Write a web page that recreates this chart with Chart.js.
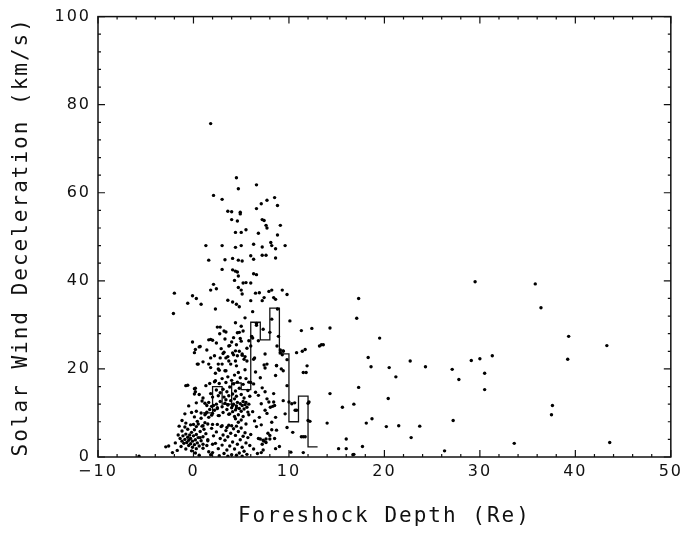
<!DOCTYPE html>
<html>
<head>
<meta charset="utf-8">
<title>Solar Wind Deceleration vs Foreshock Depth</title>
<script src="https://cdn.jsdelivr.net/npm/chart.js@4.4.1/dist/chart.umd.min.js"></script>
<style>
    html, body { margin: 0; padding: 0; background: #fff; }
    #wrap { width: 686px; height: 534px; }
</style>
</head>
<body>
<div id="wrap"><canvas id="chart" width="686" height="534"></canvas></div>
<script>
// Axis ranges and ticks
const xRange = [-10, 50];
const yRange = [0, 100];
const xMajorStep = 10, xMinorStep = 2;
const yMajorStep = 20, yMinorStep = 4;

// Median step line: bin edges (Re) and median deceleration per bin (km/s)
const binEdges = [1, 2, 3, 4, 5, 6, 7, 8, 9, 10, 11, 12, 13];
const binMedians = [10, 16, 12, 16.8, 15.3, 30.6, 26.6, 33.8, 23.4, 8, 13.8, 2.3];

// Individual events [depth (Re), deceleration (km/s)]
const events = [
    // upper and sparse points
    [1.8, 75.7], [4.5, 63.4], [4.7, 60.9], [6.6, 61.8], [2.1, 59.4], [3.0, 58.5], [7.7, 58.3], [8.5, 58.9],
    [7.1, 57.5], [8.8, 57.1], [6.6, 56.4], [3.6, 55.8], [4.0, 55.7], [4.9, 55.6], [4.9, 55.2], [4.0, 53.9],
    [4.6, 53.6], [7.2, 53.9], [7.4, 53.7], [6.8, 50.8], [7.6, 52.6], [9.1, 52.6], [7.7, 52.0], [5.5, 51.6],
    [4.4, 51.0], [5.0, 51.0], [8.8, 50.4], [1.3, 48.0], [3.0, 48.0], [4.4, 47.6], [5.0, 48.0], [6.3, 48.3],
    [7.2, 47.7], [8.1, 48.7], [8.2, 48.0], [9.6, 48.0], [1.6, 44.7], [3.3, 44.8], [4.1, 45.1], [4.7, 44.7],
    [5.1, 44.5], [6.0, 45.7], [6.3, 44.9], [7.2, 45.8], [7.6, 45.8], [8.6, 45.2], [8.6, 47.3], [3.0, 42.6],
    [4.1, 42.5], [4.4, 42.2], [4.6, 42.0], [4.7, 41.1], [6.3, 41.6], [6.6, 41.4], [4.3, 40.1], [5.2, 39.5],
    [5.5, 39.6], [6.0, 39.5], [2.1, 39.2], [2.4, 38.2], [1.8, 37.9], [4.7, 38.5], [5.0, 37.9], [5.1, 37.0],
    [6.5, 37.2], [6.9, 37.3], [7.9, 37.6], [8.2, 37.9], [9.3, 37.9], [9.8, 36.9], [-2.0, 37.2], [-0.1, 36.6],
    [0.3, 36.0], [-0.6, 34.9], [0.8, 34.7], [-2.1, 32.6], [3.6, 35.6], [4.1, 35.2], [4.5, 34.7], [4.8, 34.1],
    [6.0, 35.5], [7.2, 35.5], [7.4, 36.2], [8.4, 36.2], [8.6, 35.8], [8.8, 33.6], [2.3, 33.6], [6.2, 33.0],
    [5.4, 31.6], [5.0, 29.7], [4.4, 30.5], [2.5, 29.5], [2.8, 29.5], [3.2, 28.6], [6.6, 30.3], [8.2, 31.3],
    [10.1, 30.9], [11.3, 28.7], [12.4, 29.2], [14.3, 29.3], [17.1, 31.5], [17.3, 36.0], [19.5, 27.0],
    [-0.1, 26.1], [0.7, 25.1], [0.2, 24.4], [1.8, 26.7], [2.0, 26.5], [4.6, 28.2], [4.0, 26.1], [5.0, 26.3],
    [6.1, 27.4], [6.8, 26.4], [9.1, 24.3], [9.4, 24.0], [11.4, 24.0], [11.7, 24.4], [13.6, 25.5], [0.4, 21.1],
    [1.8, 22.5], [2.2, 23.0], [2.8, 22.5], [3.2, 23.8], [3.6, 22.8], [4.1, 23.6], [4.8, 24.0], [5.1, 23.1],
    [5.4, 22.8], [6.4, 22.5], [3.0, 21.1], [1.8, 20.3], [2.6, 20.0], [4.4, 21.8], [7.4, 20.9], [7.5, 20.2],
    [8.7, 20.8], [9.8, 22.1], [11.8, 19.2], [18.3, 22.6], [18.6, 20.5], [20.5, 20.3], [21.2, 18.2], [22.7, 21.8],
    [24.3, 20.5], [27.1, 19.9], [27.8, 17.6], [29.5, 39.8], [29.1, 21.9], [30.0, 22.3], [31.3, 23.0], [30.5, 19.0],
    [30.5, 15.3], [35.8, 39.3], [36.4, 33.9], [39.3, 27.4], [39.2, 22.2], [43.3, 25.3], [37.6, 11.7], [37.5, 9.6],
    [43.6, 3.3], [33.6, 3.1], [27.2, 8.3], [26.3, 1.4], [23.7, 7.0], [22.8, 4.4], [21.5, 7.1], [20.2, 6.9],
    [20.4, 13.3], [18.7, 8.7], [18.1, 7.7], [17.7, 2.4], [17.3, 15.8], [16.8, 12.0], [16.8, 0.6], [16.7, 0.5],
    [16.0, 4.1], [16.0, 1.9], [15.2, 1.9], [15.6, 11.3], [14.3, 14.4], [14.0, 7.7], [12.1, 12.5], [12.2, 8.1],
    [11.7, 4.6], [11.3, 4.6], [11.5, 1.0], [10.4, 5.6], [10.8, 10.6], [10.6, 12.3], [10.0, 12.5], [10.2, 1.1],
    [8.6, 9.0], [8.5, 4.2], [8.2, 7.9], [8.2, 6.2], [8.6, 1.9], [8.0, 4.1], [7.6, 4.1], [7.2, 2.9], [7.3, 1.6],
    [7.1, 1.0], [7.0, 4.1], [7.1, 12.1], [7.5, 14.8], [7.2, 15.7], [8.4, 14.4], [8.3, 11.5], [-2.9, 2.3],
    [-2.6, 2.5], [-1.7, 1.5], [-5.7, 0.2], [0.2, 15.6], [-0.6, 16.3], [0.1, 14.3],
    // dense blob near zero depth
    [-1.4, 4.2], [-1.2, 3.6], [-1.1, 4.8], [-1.0, 3.1], [-0.9, 4.0], [-0.8, 5.2], [-0.7, 3.3], [-0.6, 4.5],
    [-0.5, 2.6], [-0.5, 3.8], [-0.4, 5.0], [-0.3, 3.0], [-0.3, 4.2], [-0.2, 5.6], [-0.1, 2.2], [-0.1, 3.6],
    [0.0, 4.8], [0.1, 2.8], [0.1, 6.2], [0.2, 3.9], [0.3, 5.1], [0.3, 1.9], [0.4, 3.2], [0.5, 4.4], [0.5, 7.5],
    [0.6, 2.5], [0.7, 5.8], [0.8, 3.7], [0.9, 7.0], [1.0, 4.6], [1.0, 2.0], [-1.3, 2.4], [-0.8, 1.8], [-0.2, 1.4],
    [0.2, 0.9], [-0.6, 6.3], [-0.9, 6.8], [0.0, 7.4], [0.4, 8.1], [0.8, 8.8], [1.2, 7.8], [1.1, 6.3], [1.3, 5.3],
    [1.5, 3.9], [1.4, 2.6], [1.6, 1.2], [1.8, 0.5], [0.6, 0.4], [-1.6, 5.0], [-1.9, 3.2], [-2.2, 1.0],
    [-1.5, 7.0], [-1.2, 8.3], [-0.9, 9.8], [-0.5, 11.6], [-0.2, 10.1], [0.3, 12.3], [0.1, 9.1], [-1.2, 5.9],
    // diagonal band
    [1.2, 9.6], [1.4, 10.2], [1.6, 9.0], [1.7, 10.8], [1.9, 11.5], [2.0, 9.9], [2.2, 10.6], [2.4, 12.0],
    [2.5, 11.0], [2.7, 9.4], [2.8, 12.6], [3.0, 11.4], [3.1, 10.1], [3.3, 12.2], [3.4, 13.0], [3.5, 10.8],
    [3.6, 11.9], [3.8, 9.8], [3.9, 12.8], [4.0, 11.2], [4.1, 10.3], [4.2, 12.0], [4.3, 13.2], [4.4, 10.7],
    [4.5, 11.6], [4.6, 12.4], [4.7, 9.6], [4.8, 11.0], [4.9, 12.1], [5.0, 10.4], [5.1, 11.7], [5.2, 12.6],
    [5.3, 10.9], [5.4, 11.9], [5.5, 12.4], [5.6, 11.3], [5.7, 10.2], [5.8, 12.0], [4.4, 8.7], [4.7, 7.9],
    [5.0, 8.4], [5.2, 9.2], [5.5, 7.5], [5.8, 9.6], [0.9, 12.7], [1.2, 12.2], [1.4, 11.7], [1.6, 12.4],
    [2.1, 11.7], [2.5, 11.2], [3.6, 11.8], [4.1, 11.7], [4.5, 11.1], [0.3, 10.4], [0.8, 10.0], [1.3, 9.9],
    [1.9, 9.5], [2.6, 9.4], [3.7, 9.7], [4.3, 9.2], [-0.8, 7.7], [-0.3, 7.3], [0.3, 6.9], [1.0, 7.1],
    [1.5, 7.5], [2.0, 7.4], [2.5, 7.4], [3.0, 7.1], [3.5, 6.7], [4.0, 7.1],
    // low points, depth 1 to 6
    [1.9, 6.5], [2.1, 4.8], [2.3, 3.1], [2.4, 5.7], [2.6, 1.9], [2.8, 4.2], [2.9, 6.9], [3.0, 2.7], [3.1, 5.0],
    [3.2, 0.8], [3.3, 3.8], [3.4, 6.0], [3.5, 1.6], [3.6, 4.6], [3.7, 7.2], [3.8, 2.5], [3.9, 5.4], [4.0, 0.5],
    [4.1, 3.4], [4.2, 6.4], [4.3, 1.8], [4.4, 4.9], [4.5, 7.0], [4.6, 2.9], [4.7, 5.8], [4.8, 0.9], [4.9, 3.9],
    [5.0, 6.6], [5.1, 2.2], [5.2, 4.7], [5.3, 1.3], [5.4, 5.5], [5.5, 3.2], [5.6, 0.6], [5.7, 4.4], [5.9, 2.6],
    [6.0, 5.1], [2.0, 1.0], [2.7, 0.3], [3.6, 0.2], [4.5, 0.4], [5.1, 0.2], [0.7, 4.4], [1.0, 2.9], [1.5, 3.7],
    [2.0, 2.9],
    // depth 1 to 6, 13 to 20 km/s
    [1.3, 16.2], [1.7, 16.7], [1.8, 14.4], [2.0, 13.6], [2.2, 17.1], [2.4, 15.2], [2.6, 13.9], [2.7, 16.7],
    [2.8, 14.6], [3.0, 17.8], [3.1, 15.4], [3.2, 13.6], [3.4, 16.9], [3.5, 14.8], [3.6, 18.2], [3.7, 13.9],
    [3.8, 15.9], [4.0, 17.4], [4.1, 14.3], [4.2, 16.6], [4.3, 18.6], [4.4, 15.0], [4.5, 13.8], [4.6, 17.0],
    [4.8, 15.6], [4.9, 18.0], [5.0, 14.2], [5.2, 16.5], [5.3, 13.4], [5.5, 17.8], [5.7, 15.1], [5.9, 13.8],
    [6.0, 16.9], [1.0, 13.4], [0.6, 14.2], [2.3, 19.0], [3.3, 19.6], [4.7, 19.2], [5.4, 19.8], [-0.8, 16.2],
    [0.1, 15.5], [0.2, 14.8], [2.3, 17.3], [2.7, 19.7], [3.4, 19.6],
    // depth 1 to 6, 20 to 30 km/s
    [1.0, 21.6], [1.4, 24.3], [2.4, 25.9], [2.9, 24.6], [3.3, 26.8], [3.8, 25.3], [4.2, 27.1], [4.9, 26.9],
    [5.6, 24.7], [5.8, 26.4], [6.0, 25.2], [4.4, 24.1], [4.6, 23.0], [5.1, 23.4], [5.3, 22.2], [5.6, 21.8],
    [6.3, 22.2], [2.75, 28.0], [3.4, 28.4], [4.8, 28.3], [5.2, 28.6], [3.7, 25.2], [4.5, 25.5], [0.1, 23.7],
    [3.1, 23.5], [3.4, 22.5], [3.7, 21.8], [4.2, 23.2], [0.5, 21.1], [1.6, 21.1], [2.6, 21.1], [3.9, 21.1],
    [4.5, 20.7], [0.6, 25.0], [1.6, 26.6],
    // depth 6 to 13
    [6.5, 14.7], [6.8, 14.0], [7.7, 13.2], [7.9, 12.5], [8.05, 11.3], [8.4, 12.5], [8.5, 11.7], [9.4, 12.8],
    [7.5, 10.6], [7.7, 9.9], [10.3, 12.1], [10.65, 10.6], [11.5, 19.2], [11.9, 20.7], [13.4, 25.5], [10.8, 23.7],
    [12.0, 12.2], [12.0, 8.3], [7.8, 5.4], [8.0, 4.9], [8.7, 6.1], [6.8, 4.2], [7.3, 3.8], [7.4, 3.6], [7.6, 3.3],
    [7.5, 23.4], [7.7, 21.1], [8.75, 25.2], [9.1, 23.7], [9.3, 23.2], [9.4, 24.1], [9.4, 19.6], [9.2, 20.0],
    [8.7, 20.7], [8.6, 18.5], [5.8, 17.0], [6.3, 16.6], [6.2, 10.3], [6.4, 8.2], [6.6, 6.9], [6.9, 9.0],
    [7.1, 7.3], [6.3, 1.8], [6.7, 0.8], [9.0, 2.4], [9.6, 9.8], [9.8, 6.7], [6.5, 19.3], [7.0, 18.0], [7.3, 29.0],
    [8.0, 28.3], [8.9, 27.4], [6.2, 27.0], [6.6, 29.9], [9.8, 16.2], [11.5, 4.6], [13.2, 25.2]
];

const stepPoints = binEdges.map((edge, i) => ({
    x: edge,
    y: binMedians[Math.min(i, binMedians.length - 1)]
}));

// Frame with inward major/minor ticks on all four sides
const frameTicks = {
    id: 'frameTicks',
    beforeDraw(chart) {
        chart.ctx.letterSpacing = '2px';
    },
    afterDatasetsDraw(chart) {
        const { ctx, chartArea: a, scales } = chart;
        ctx.save();
        ctx.strokeStyle = '#111';
        ctx.lineWidth = 1.5;
        ctx.strokeRect(a.left, a.top, a.right - a.left, a.bottom - a.top);
        ctx.lineWidth = 1.2;
        ctx.beginPath();
        for (let v = xRange[0]; v <= xRange[1]; v += xMinorStep) {
            const px = scales.x.getPixelForValue(v);
            const len = v % xMajorStep === 0 ? 7 : 3;
            ctx.moveTo(px, a.bottom); ctx.lineTo(px, a.bottom - len);
            ctx.moveTo(px, a.top); ctx.lineTo(px, a.top + len);
        }
        for (let v = yRange[0]; v <= yRange[1]; v += yMinorStep) {
            const py = scales.y.getPixelForValue(v);
            const len = v % yMajorStep === 0 ? 7 : 3;
            ctx.moveTo(a.left, py); ctx.lineTo(a.left + len, py);
            ctx.moveTo(a.right, py); ctx.lineTo(a.right - len, py);
        }
        ctx.stroke();
        ctx.restore();
    }
};

const titleFont = '"DejaVu Sans Mono", monospace';
const tickFont = '"DejaVu Sans", sans-serif';

new Chart(document.getElementById('chart'), {
    type: 'scatter',
    data: {
        datasets: [
            {
                label: 'Events',
                data: events.map(p => ({ x: p[0], y: p[1] })),
                pointRadius: 1.7,
                pointBorderWidth: 0,
                pointBackgroundColor: '#000',
                pointHoverRadius: 1.7
            },
            {
                type: 'line',
                label: 'Median',
                data: stepPoints,
                stepped: true,
                borderColor: '#111',
                borderWidth: 1.3,
                pointRadius: 0,
                fill: false
            }
        ]
    },
    options: {
        responsive: false,
        animation: false,
        layout: { padding: { top: 13, right: 11, left: 0, bottom: 0 } },
        plugins: {
            legend: { display: false },
            tooltip: { enabled: false }
        },
        scales: {
            x: {
                type: 'linear',
                min: xRange[0],
                max: xRange[1],
                grid: { display: false, drawTicks: false },
                border: { display: false },
                afterFit: (scale) => { scale.height = 77; },
                ticks: {
                    stepSize: xMajorStep,
                    padding: 5,
                    color: '#111',
                    font: { family: tickFont, size: 16 },
                    callback: (v) => v < 0 ? '\u2212' + Math.abs(v) : String(v)
                },
                title: {
                    display: true,
                    text: 'Foreshock Depth (Re)',
                    color: '#111',
                    font: { family: titleFont, size: 21 },
                    padding: { top: 4, bottom: 5 }
                }
            },
            y: {
                type: 'linear',
                min: yRange[0],
                max: yRange[1],
                grid: { display: false, drawTicks: false },
                border: { display: false },
                afterFit: (scale) => { scale.width = 98; },
                ticks: {
                    stepSize: yMajorStep,
                    padding: 7,
                    color: '#111',
                    font: { family: tickFont, size: 16 }
                },
                title: {
                    display: true,
                    text: 'Solar Wind Deceleration (km/s)',
                    color: '#111',
                    font: { family: titleFont, size: 21 },
                    padding: { top: 9, bottom: 4 }
                }
            }
        }
    },
    plugins: [frameTicks]
});
</script>
</body>
</html>
